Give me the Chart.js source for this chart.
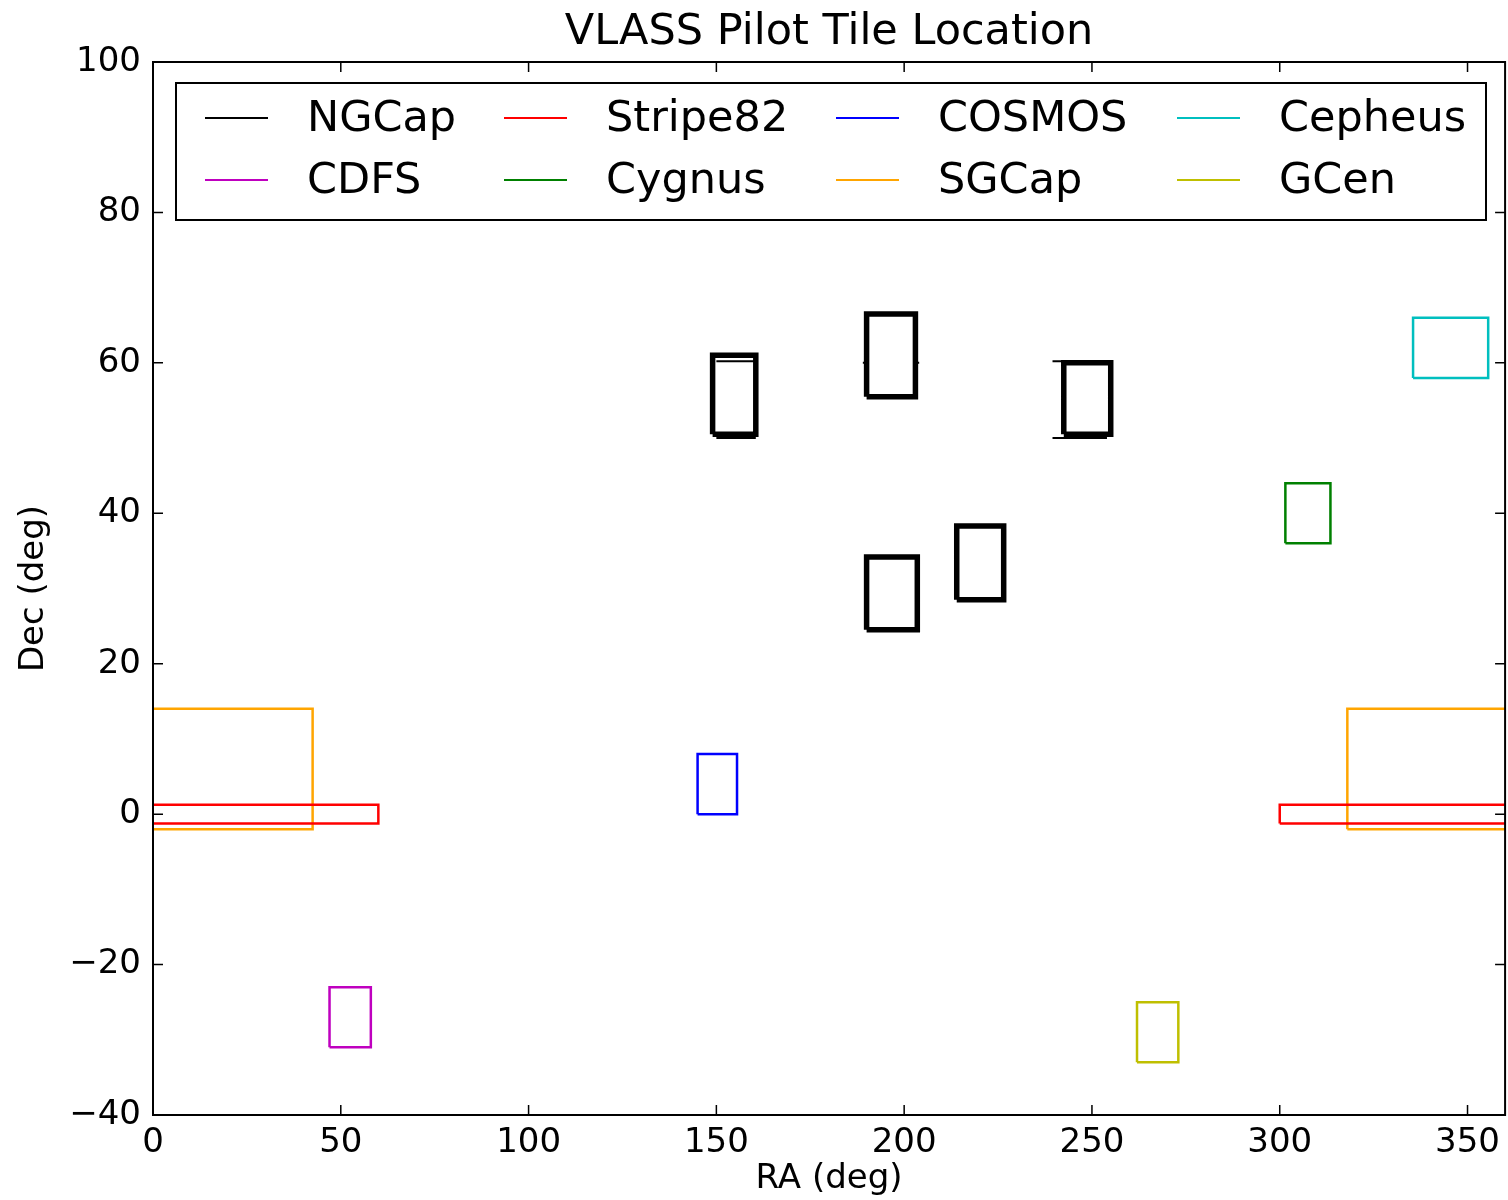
<!DOCTYPE html>
<html>
<head>
<meta charset="utf-8">
<script src="https://cdn.jsdelivr.net/npm/chart.js@4/dist/chart.umd.min.js"></script>
<style>
  html, body { margin: 0; padding: 0; background: #fff; }
  #wrap { width: 1508px; height: 1200px; }
</style>
</head>
<body>
<div id="wrap"><canvas id="tiles"></canvas></div>
<script>
// tile boxes: [raMin, raMax, decMin, decMax]
var fieldNames = ['NGCap', 'Stripe82', 'COSMOS', 'Cepheus', 'CDFS', 'Cygnus', 'SGCap', 'GCen'];
var fieldColors = ['#000000', '#ff0000', '#0000ff', '#00bfbf', '#bf00bf', '#008000', '#ffa500', '#bfbf00'];
var ngcapTiles = [[149, 160.5, 50.5, 61], [190, 203, 55.5, 66.5], [242.5, 255, 50.5, 60], [190, 203.5, 24.5, 34.2], [214, 226.5, 28.5, 38.3]];
// thin edges under the NGCap boxes: [raMin, raMax, dec]
var ngcapEdges = [[150, 160.5, 50], [150, 160.5, 60.2], [239.5, 254, 50], [239.5, 254, 60.2], [189, 190.5, 60], [202.5, 204, 60]];
var stripe82Tiles = [[300, 420, -1.25, 1.25], [-60, 60, -1.25, 1.25]];
var cosmosTiles = [[145, 155.5, 0, 8]];
var cepheusTiles = [[335.5, 355.5, 58, 66]];
var cdfsTiles = [[47, 58, -31, -23]];
var cygnusTiles = [[301.5, 313.5, 36, 44]];
var sgcapTiles = [[318, 402.5, -2, 14], [-42, 42.5, -2, 14]];
var gcenTiles = [[262, 273, -33, -25]];
var fieldTiles = [ngcapTiles, stripe82Tiles, cosmosTiles, cepheusTiles, cdfsTiles, cygnusTiles, sgcapTiles, gcenTiles];

var xTicks = [0, 50, 100, 150, 200, 250, 300, 350];
var yTicks = [-40, -20, 0, 20, 40, 60, 80, 100];

function outline(tiles) {
    var pts = [];
    tiles.forEach(function (t) {
        pts.push({x: t[0], y: t[2]}, {x: t[1], y: t[2]}, {x: t[1], y: t[3]}, {x: t[0], y: t[3]}, {x: t[0], y: t[2]});
        pts.push({x: t[0], y: null});
    });
    return pts;
}

function segments(lines) {
    var pts = [];
    lines.forEach(function (l) {
        pts.push({x: l[0], y: l[2]}, {x: l[1], y: l[2]}, {x: l[1], y: null});
    });
    return pts;
}

var datasets = fieldNames.map(function (name, i) {
    return {
        label: name,
        data: outline(fieldTiles[i]),
        borderColor: fieldColors[i],
        borderWidth: i === 0 ? 5.5 : 2.5,
        pointRadius: 0,
        showLine: true,
        spanGaps: false,
        fill: false
    };
});
datasets.push({
    label: 'NGCap edges',
    data: segments(ngcapEdges),
    borderColor: '#000000',
    borderWidth: 2,
    pointRadius: 0,
    showLine: true,
    spanGaps: false,
    fill: false
});

var FONT = 'DejaVu Sans';

var framePlugin = {
    id: 'frame',
    afterDatasetsDraw: function (chart) {
        var ctx = chart.ctx, a = chart.chartArea;
        var xs = chart.scales.x, ys = chart.scales.y;
        ctx.save();
        ctx.strokeStyle = '#000';
        ctx.lineWidth = 2;
        ctx.strokeRect(a.left, a.top, a.right - a.left, a.bottom - a.top);
        ctx.lineWidth = 1.5;
        ctx.beginPath();
        xTicks.forEach(function (v) {
            var px = xs.getPixelForValue(v);
            ctx.moveTo(px, a.bottom); ctx.lineTo(px, a.bottom - 10);
            ctx.moveTo(px, a.top); ctx.lineTo(px, a.top + 10);
        });
        yTicks.forEach(function (v) {
            var py = ys.getPixelForValue(v);
            ctx.moveTo(a.left, py); ctx.lineTo(a.left + 10, py);
            ctx.moveTo(a.right, py); ctx.lineTo(a.right - 10, py);
        });
        ctx.stroke();

        // title
        ctx.fillStyle = '#000';
        ctx.font = '43px "' + FONT + '"';
        ctx.textAlign = 'center';
        ctx.textBaseline = 'middle';
        ctx.fillText('VLASS Pilot Tile Location', (a.left + a.right) / 2, 33);

        // legend, matplotlib style 4 columns
        ctx.fillStyle = '#fff';
        ctx.fillRect(176, 83, 1310, 137);
        ctx.strokeStyle = '#000';
        ctx.lineWidth = 2;
        ctx.strokeRect(176, 83, 1310, 137);
        var colX = [205, 504, 836, 1177];
        var rowY = [118, 180];
        ctx.font = '43px "' + FONT + '"';
        ctx.textAlign = 'left';
        fieldNames.forEach(function (name, i) {
            var cx = colX[i % 4], cy = rowY[Math.floor(i / 4)];
            ctx.strokeStyle = fieldColors[i];
            ctx.lineWidth = 2;
            ctx.beginPath();
            ctx.moveTo(cx, cy); ctx.lineTo(cx + 63, cy);
            ctx.stroke();
            ctx.fillStyle = '#000';
            ctx.fillText(name, cx + 102, cy + 2);
        });
        ctx.restore();
    }
};

new Chart(document.getElementById('tiles').getContext('2d'), {
    type: 'scatter',
    data: {datasets: datasets},
    options: {
        responsive: true,
        maintainAspectRatio: false,
        animation: false,
        layout: {padding: {top: 62, right: 1, left: 0, bottom: 0}},
        plugins: {
            legend: {display: false},
            title: {display: false},
            tooltip: {enabled: false}
        },
        scales: {
            x: {
                type: 'linear',
                min: 0,
                max: 360,
                afterBuildTicks: function (scale) {
                    scale.ticks = xTicks.map(function (v) { return {value: v}; });
                },
                afterFit: function (scale) { scale.height = 85; },
                grid: {display: false, drawTicks: false},
                border: {display: false},
                ticks: {
                    color: '#000',
                    padding: 8,
                    maxRotation: 0,
                    font: {family: FONT, size: 34}
                },
                title: {
                    display: true,
                    text: 'RA (deg)',
                    color: '#000',
                    padding: {top: 0, bottom: 0},
                    font: {family: FONT, size: 34}
                }
            },
            y: {
                type: 'linear',
                min: -40,
                max: 100,
                afterBuildTicks: function (scale) {
                    scale.ticks = yTicks.map(function (v) { return {value: v}; });
                },
                afterFit: function (scale) { scale.width = 153; },
                grid: {display: false, drawTicks: false},
                border: {display: false},
                ticks: {
                    color: '#000',
                    padding: 12,
                    font: {family: FONT, size: 34},
                    callback: function (v) { return String(v).replace('-', '\u2212'); }
                },
                title: {
                    display: true,
                    text: 'Dec (deg)',
                    color: '#000',
                    padding: {top: 14, bottom: 0},
                    font: {family: FONT, size: 34}
                }
            }
        }
    },
    plugins: [framePlugin]
});
</script>
</body>
</html>
